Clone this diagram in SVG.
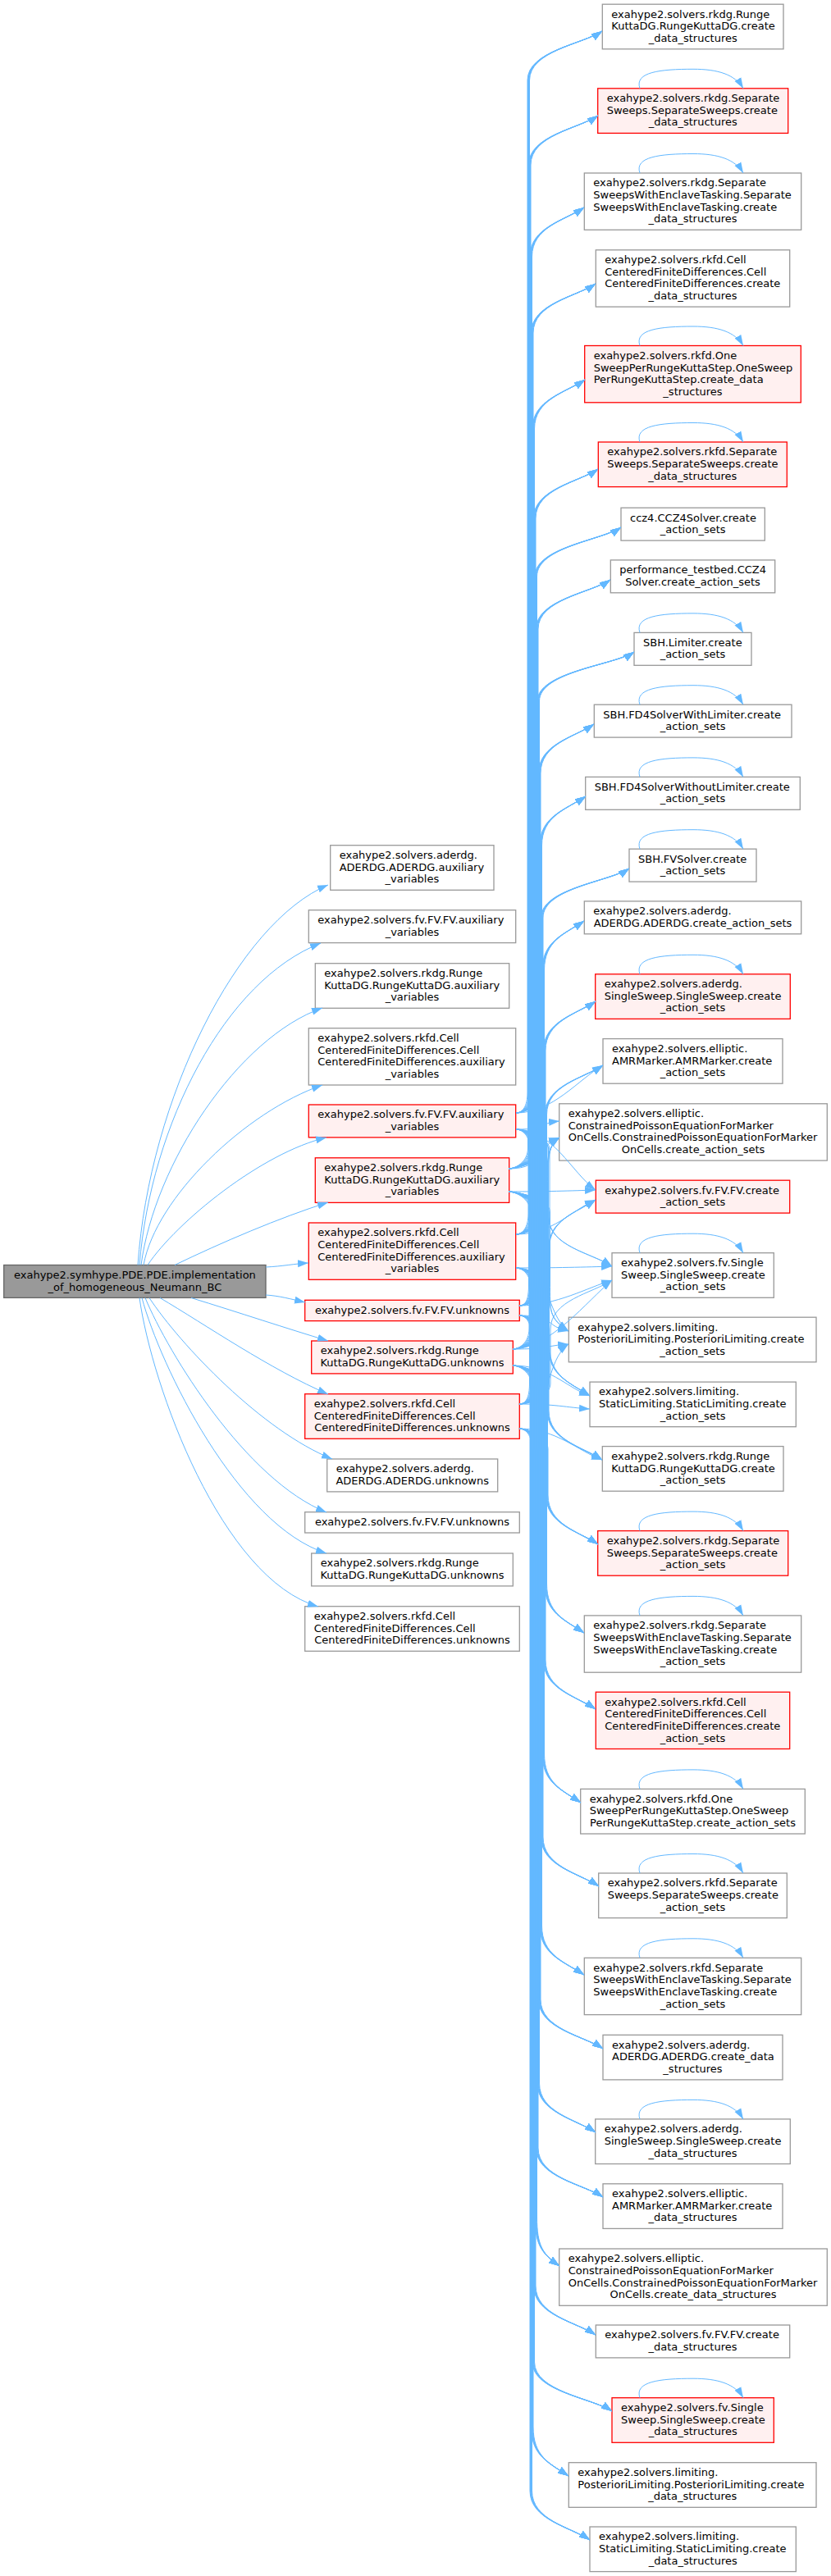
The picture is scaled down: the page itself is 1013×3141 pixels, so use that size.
<svg xmlns="http://www.w3.org/2000/svg" width="1013" height="3141" viewBox="0 0 1013 3141">
<style>
text{font-family:"DejaVu Sans","Liberation Sans",sans-serif;font-size:13px;fill:#000}
.c{text-anchor:middle}
.w rect{fill:#fff;stroke:#999;stroke-width:1.3}
.r rect{fill:#fff0f0;stroke:#f00;stroke-width:1.3}
.k rect{fill:#999;stroke:#666;stroke-width:1.3}
#edges path{fill:none;stroke:#63b8ff;stroke-width:1;marker-end:url(#ah)}
</style>
<defs>
<marker id="ah" markerUnits="userSpaceOnUse" markerWidth="14" markerHeight="10" refX="13" refY="5" orient="auto"><path d="M0,0.5L13,5L0,9.5z" fill="#63b8ff"/></marker>
</defs>
<rect width="1013" height="3141" fill="#fff"/>

<g id="root" class="k"><rect x="4.7" y="1542.5" width="319.3" height="39.9"/><text class="c" x="164.4" y="1558.8">exahype2.symhype.PDE.PDE.implementation</text><text class="c" x="164.4" y="1573.5">_of_homogeneous_Neumann_BC</text></g>

<g id="m1" class="w"><rect x="402.7" y="1030.7" width="199.3" height="54.6"/><text x="413.7" y="1047">exahype2.solvers.aderdg.</text><text x="413.7" y="1061.7">ADERDG.ADERDG.auxiliary</text><text class="c" x="502.4" y="1076.3">_variables</text></g>
<g id="m2" class="w"><rect x="376.3" y="1109.7" width="252.4" height="39.9"/><text x="387.3" y="1126">exahype2.solvers.fv.FV.FV.auxiliary</text><text class="c" x="502.5" y="1140.7">_variables</text></g>
<g id="m3" class="w"><rect x="384.3" y="1174.7" width="236.4" height="54.6"/><text x="395.3" y="1191">exahype2.solvers.rkdg.Runge</text><text x="395.3" y="1205.7">KuttaDG.RungeKuttaDG.auxiliary</text><text class="c" x="502.5" y="1220.3">_variables</text></g>
<g id="m4" class="w"><rect x="376.3" y="1253.7" width="252.4" height="69.3"/><text x="387.3" y="1270">exahype2.solvers.rkfd.Cell</text><text x="387.3" y="1284.7">CenteredFiniteDifferences.Cell</text><text x="387.3" y="1299.3">CenteredFiniteDifferences.auxiliary</text><text class="c" x="502.5" y="1314">_variables</text></g>
<g id="m5" class="r"><rect x="376.3" y="1347" width="252.4" height="39.9"/><text x="387.3" y="1363.3">exahype2.solvers.fv.FV.FV.auxiliary</text><text class="c" x="502.5" y="1378">_variables</text></g>
<g id="m6" class="r"><rect x="384.3" y="1411.8" width="236.4" height="54.6"/><text x="395.3" y="1428.1">exahype2.solvers.rkdg.Runge</text><text x="395.3" y="1442.8">KuttaDG.RungeKuttaDG.auxiliary</text><text class="c" x="502.5" y="1457.4">_variables</text></g>
<g id="m7" class="r"><rect x="376.3" y="1491" width="252.4" height="69.3"/><text x="387.3" y="1507.3">exahype2.solvers.rkfd.Cell</text><text x="387.3" y="1522">CenteredFiniteDifferences.Cell</text><text x="387.3" y="1536.6">CenteredFiniteDifferences.auxiliary</text><text class="c" x="502.5" y="1551.3">_variables</text></g>
<g id="m8" class="r"><rect x="371.7" y="1585.3" width="261.6" height="25.3"/><text class="c" x="502.5" y="1601.6">exahype2.solvers.fv.FV.FV.unknowns</text></g>
<g id="m9" class="r"><rect x="379.7" y="1635" width="245.6" height="39.9"/><text x="390.7" y="1651.3">exahype2.solvers.rkdg.Runge</text><text class="c" x="502.5" y="1666">KuttaDG.RungeKuttaDG.unknowns</text></g>
<g id="m10" class="r"><rect x="371.7" y="1699.7" width="261.6" height="54.6"/><text x="382.7" y="1716">exahype2.solvers.rkfd.Cell</text><text x="382.7" y="1730.7">CenteredFiniteDifferences.Cell</text><text class="c" x="502.5" y="1745.3">CenteredFiniteDifferences.unknowns</text></g>
<g id="m11" class="w"><rect x="398.7" y="1779" width="208" height="39.9"/><text x="409.7" y="1795.3">exahype2.solvers.aderdg.</text><text class="c" x="502.7" y="1810">ADERDG.ADERDG.unknowns</text></g>
<g id="m12" class="w"><rect x="371.7" y="1843.7" width="261.6" height="25.3"/><text class="c" x="502.5" y="1860">exahype2.solvers.fv.FV.FV.unknowns</text></g>
<g id="m13" class="w"><rect x="379.7" y="1894" width="245.6" height="39.9"/><text x="390.7" y="1910.3">exahype2.solvers.rkdg.Runge</text><text class="c" x="502.5" y="1925">KuttaDG.RungeKuttaDG.unknowns</text></g>
<g id="m14" class="w"><rect x="371.7" y="1958.7" width="261.6" height="54.6"/><text x="382.7" y="1975">exahype2.solvers.rkfd.Cell</text><text x="382.7" y="1989.7">CenteredFiniteDifferences.Cell</text><text class="c" x="502.5" y="2004.3">CenteredFiniteDifferences.unknowns</text></g>

<g id="r1" class="w"><rect x="734.3" y="5.2" width="220.7" height="54.6"/><text x="745.3" y="21.5">exahype2.solvers.rkdg.Runge</text><text x="745.3" y="36.2">KuttaDG.RungeKuttaDG.create</text><text class="c" x="844.7" y="50.8">_data_structures</text></g>
<g id="r2" class="r"><rect x="728.7" y="107.8" width="232" height="54.6"/><text x="739.7" y="124.1">exahype2.solvers.rkdg.Separate</text><text x="739.7" y="138.8">Sweeps.SeparateSweeps.create</text><text class="c" x="844.7" y="153.4">_data_structures</text></g>
<g id="r3" class="w"><rect x="712.3" y="211" width="264.4" height="69.3"/><text x="723.3" y="227.3">exahype2.solvers.rkdg.Separate</text><text x="723.3" y="242">SweepsWithEnclaveTasking.Separate</text><text x="723.3" y="256.6">SweepsWithEnclaveTasking.create</text><text class="c" x="844.5" y="271.3">_data_structures</text></g>
<g id="r4" class="w"><rect x="726.3" y="304.8" width="236.4" height="69.3"/><text x="737.3" y="321.1">exahype2.solvers.rkfd.Cell</text><text x="737.3" y="335.8">CenteredFiniteDifferences.Cell</text><text x="737.3" y="350.4">CenteredFiniteDifferences.create</text><text class="c" x="844.5" y="365.1">_data_structures</text></g>
<g id="r5" class="r"><rect x="712.7" y="421.5" width="263.6" height="69.3"/><text x="723.7" y="437.8">exahype2.solvers.rkfd.One</text><text x="723.7" y="452.5">SweepPerRungeKuttaStep.OneSweep</text><text x="723.7" y="467.1">PerRungeKuttaStep.create_data</text><text class="c" x="844.5" y="481.8">_structures</text></g>
<g id="r6" class="r"><rect x="729.3" y="539" width="230" height="54.6"/><text x="740.3" y="555.3">exahype2.solvers.rkfd.Separate</text><text x="740.3" y="570">Sweeps.SeparateSweeps.create</text><text class="c" x="844.3" y="584.6">_data_structures</text></g>
<g id="r7" class="w"><rect x="757" y="619.2" width="175.3" height="39.9"/><text x="768" y="635.5">ccz4.CCZ4Solver.create</text><text class="c" x="844.7" y="650.2">_action_sets</text></g>
<g id="r8" class="w"><rect x="744.3" y="682.9" width="200.4" height="39.9"/><text x="755.3" y="699.2">performance_testbed.CCZ4</text><text class="c" x="844.5" y="713.9">Solver.create_action_sets</text></g>
<g id="r9" class="w"><rect x="773" y="771.4" width="143" height="39.9"/><text x="784" y="787.7">SBH.Limiter.create</text><text class="c" x="844.5" y="802.4">_action_sets</text></g>
<g id="r10" class="w"><rect x="724.3" y="859.2" width="240.7" height="39.9"/><text x="735.3" y="875.5">SBH.FD4SolverWithLimiter.create</text><text class="c" x="844.7" y="890.2">_action_sets</text></g>
<g id="r11" class="w"><rect x="713.7" y="947.4" width="261.6" height="39.9"/><text x="724.7" y="963.7">SBH.FD4SolverWithoutLimiter.create</text><text class="c" x="844.5" y="978.4">_action_sets</text></g>
<g id="r12" class="w"><rect x="767" y="1035.2" width="155" height="39.9"/><text x="778" y="1051.5">SBH.FVSolver.create</text><text class="c" x="844.5" y="1066.2">_action_sets</text></g>
<g id="r13" class="w"><rect x="712.3" y="1098.9" width="264.4" height="39.9"/><text x="723.3" y="1115.2">exahype2.solvers.aderdg.</text><text class="c" x="844.5" y="1129.9">ADERDG.ADERDG.create_action_sets</text></g>
<g id="r14" class="r"><rect x="725.7" y="1187.8" width="237.6" height="54.6"/><text x="736.7" y="1204.1">exahype2.solvers.aderdg.</text><text x="736.7" y="1218.8">SingleSweep.SingleSweep.create</text><text class="c" x="844.5" y="1233.4">_action_sets</text></g>
<g id="r15" class="w"><rect x="735" y="1266.6" width="219" height="54.6"/><text x="746" y="1282.9">exahype2.solvers.elliptic.</text><text x="746" y="1297.6">AMRMarker.AMRMarker.create</text><text class="c" x="844.5" y="1312.2">_action_sets</text></g>
<g id="r16" class="w"><rect x="681.7" y="1345.8" width="326.6" height="69.3"/><text x="692.7" y="1362.1">exahype2.solvers.elliptic.</text><text x="692.7" y="1376.8">ConstrainedPoissonEquationForMarker</text><text x="692.7" y="1391.4">OnCells.ConstrainedPoissonEquationForMarker</text><text class="c" x="845" y="1406.1">OnCells.create_action_sets</text></g>
<g id="r17" class="r"><rect x="726.3" y="1439.2" width="236.4" height="39.9"/><text x="737.3" y="1455.5">exahype2.solvers.fv.FV.FV.create</text><text class="c" x="844.5" y="1470.2">_action_sets</text></g>
<g id="r18" class="w"><rect x="746" y="1527.7" width="197.3" height="54.6"/><text x="757" y="1544">exahype2.solvers.fv.Single</text><text x="757" y="1558.7">Sweep.SingleSweep.create</text><text class="c" x="844.7" y="1573.3">_action_sets</text></g>
<g id="r19" class="w"><rect x="693.3" y="1606.2" width="301.7" height="54.6"/><text x="704.3" y="1622.5">exahype2.solvers.limiting.</text><text x="704.3" y="1637.2">PosterioriLimiting.PosterioriLimiting.create</text><text class="c" x="844.2" y="1651.8">_action_sets</text></g>
<g id="r20" class="w"><rect x="719" y="1685.1" width="251.3" height="54.6"/><text x="730" y="1701.4">exahype2.solvers.limiting.</text><text x="730" y="1716.1">StaticLimiting.StaticLimiting.create</text><text class="c" x="844.7" y="1730.7">_action_sets</text></g>
<g id="r21" class="w"><rect x="734.3" y="1763.6" width="220.7" height="54.6"/><text x="745.3" y="1779.9">exahype2.solvers.rkdg.Runge</text><text x="745.3" y="1794.6">KuttaDG.RungeKuttaDG.create</text><text class="c" x="844.7" y="1809.2">_action_sets</text></g>
<g id="r22" class="r"><rect x="728.7" y="1866.6" width="232" height="54.6"/><text x="739.7" y="1882.9">exahype2.solvers.rkdg.Separate</text><text x="739.7" y="1897.6">Sweeps.SeparateSweeps.create</text><text class="c" x="844.7" y="1912.2">_action_sets</text></g>
<g id="r23" class="w"><rect x="712.3" y="1969.9" width="264.4" height="69.3"/><text x="723.3" y="1986.2">exahype2.solvers.rkdg.Separate</text><text x="723.3" y="2000.9">SweepsWithEnclaveTasking.Separate</text><text x="723.3" y="2015.5">SweepsWithEnclaveTasking.create</text><text class="c" x="844.5" y="2030.2">_action_sets</text></g>
<g id="r24" class="r"><rect x="726.3" y="2063.2" width="236.4" height="69.3"/><text x="737.3" y="2079.5">exahype2.solvers.rkfd.Cell</text><text x="737.3" y="2094.2">CenteredFiniteDifferences.Cell</text><text x="737.3" y="2108.8">CenteredFiniteDifferences.create</text><text class="c" x="844.5" y="2123.5">_action_sets</text></g>
<g id="r25" class="w"><rect x="707.7" y="2181.4" width="273.6" height="54.6"/><text x="718.7" y="2197.7">exahype2.solvers.rkfd.One</text><text x="718.7" y="2212.4">SweepPerRungeKuttaStep.OneSweep</text><text class="c" x="844.5" y="2227">PerRungeKuttaStep.create_action_sets</text></g>
<g id="r26" class="w"><rect x="729.7" y="2284" width="229.6" height="54.6"/><text x="740.7" y="2300.3">exahype2.solvers.rkfd.Separate</text><text x="740.7" y="2315">Sweeps.SeparateSweeps.create</text><text class="c" x="844.5" y="2329.6">_action_sets</text></g>
<g id="r27" class="w"><rect x="712.3" y="2387.3" width="264.4" height="69.3"/><text x="723.3" y="2403.6">exahype2.solvers.rkfd.Separate</text><text x="723.3" y="2418.3">SweepsWithEnclaveTasking.Separate</text><text x="723.3" y="2432.9">SweepsWithEnclaveTasking.create</text><text class="c" x="844.5" y="2447.6">_action_sets</text></g>
<g id="r28" class="w"><rect x="735" y="2481.3" width="219" height="54.6"/><text x="746" y="2497.6">exahype2.solvers.aderdg.</text><text x="746" y="2512.3">ADERDG.ADERDG.create_data</text><text class="c" x="844.5" y="2526.9">_structures</text></g>
<g id="r29" class="w"><rect x="725.7" y="2583.9" width="237.6" height="54.6"/><text x="736.7" y="2600.2">exahype2.solvers.aderdg.</text><text x="736.7" y="2614.9">SingleSweep.SingleSweep.create</text><text class="c" x="844.5" y="2629.5">_data_structures</text></g>
<g id="r30" class="w"><rect x="735" y="2662.8" width="219" height="54.6"/><text x="746" y="2679.1">exahype2.solvers.elliptic.</text><text x="746" y="2693.8">AMRMarker.AMRMarker.create</text><text class="c" x="844.5" y="2708.4">_data_structures</text></g>
<g id="r31" class="w"><rect x="681.7" y="2742" width="326.6" height="69.3"/><text x="692.7" y="2758.3">exahype2.solvers.elliptic.</text><text x="692.7" y="2773">ConstrainedPoissonEquationForMarker</text><text x="692.7" y="2787.6">OnCells.ConstrainedPoissonEquationForMarker</text><text class="c" x="845" y="2802.3">OnCells.create_data_structures</text></g>
<g id="r32" class="w"><rect x="726.3" y="2835" width="236.4" height="39.9"/><text x="737.3" y="2851.3">exahype2.solvers.fv.FV.FV.create</text><text class="c" x="844.5" y="2866">_data_structures</text></g>
<g id="r33" class="r"><rect x="746" y="2923.7" width="197.3" height="54.6"/><text x="757" y="2940">exahype2.solvers.fv.Single</text><text x="757" y="2954.7">Sweep.SingleSweep.create</text><text class="c" x="844.7" y="2969.3">_data_structures</text></g>
<g id="r34" class="w"><rect x="693.3" y="3002.7" width="301.7" height="54.6"/><text x="704.3" y="3019">exahype2.solvers.limiting.</text><text x="704.3" y="3033.7">PosterioriLimiting.PosterioriLimiting.create</text><text class="c" x="844.2" y="3048.3">_data_structures</text></g>
<g id="r35" class="w"><rect x="719" y="3081" width="251.3" height="54.6"/><text x="730" y="3097.3">exahype2.solvers.limiting.</text><text x="730" y="3112">StaticLimiting.StaticLimiting.create</text><text class="c" x="844.7" y="3126.6">_data_structures</text></g>

<g id="edges">
<path d="M168,1542.5C182,1340 290,1125 400,1079"/>
<path d="M170,1542.5C184,1370 275,1195 391,1150"/>
<path d="M172,1542.5C188,1420 290,1265 393,1229"/>
<path d="M175,1542.5C190,1460 300,1355 393,1323"/>
<path d="M180,1542.5C215,1490 320,1405 398,1387"/>
<path d="M213,1542.5C270,1515 340,1485 400,1466"/>
<path d="M324,1545C345,1544 358,1541 376,1540"/>
<path d="M324,1579C340,1580 355,1584 372,1588"/>
<path d="M233,1582.5C290,1600 350,1620 400,1635"/>
<path d="M195,1582.5C250,1615 330,1670 400,1700"/>
<path d="M182,1582.5C220,1640 320,1745 405,1779"/>
<path d="M177,1582.5C205,1650 300,1805 398,1844"/>
<path d="M173,1582.5C195,1665 290,1860 398,1894"/>
<path d="M170,1582.5C185,1690 270,1925 388,1959"/>

<path d="M780,107.8c-7,-20 25,-23.5 65,-23.5c30,0 51,6.5 61,23.5"/>
<path d="M780,211c-7,-20 25,-23.5 65,-23.5c30,0 51,6.5 61,23.5"/>
<path d="M780,421.5c-7,-20 25,-23.5 65,-23.5c30,0 51,6.5 61,23.5"/>
<path d="M780,539c-7,-20 25,-23.5 65,-23.5c30,0 51,6.5 61,23.5"/>
<path d="M780,771.4c-7,-20 25,-23.5 65,-23.5c30,0 51,6.5 61,23.5"/>
<path d="M780,859.2c-7,-20 25,-23.5 65,-23.5c30,0 51,6.5 61,23.5"/>
<path d="M780,947.4c-7,-20 25,-23.5 65,-23.5c30,0 51,6.5 61,23.5"/>
<path d="M780,1035.2c-7,-20 25,-23.5 65,-23.5c30,0 51,6.5 61,23.5"/>
<path d="M780,1187.8c-7,-20 25,-23.5 65,-23.5c30,0 51,6.5 61,23.5"/>
<path d="M780,1527.7c-7,-20 25,-23.5 65,-23.5c30,0 51,6.5 61,23.5"/>
<path d="M780,1866.6c-7,-20 25,-23.5 65,-23.5c30,0 51,6.5 61,23.5"/>
<path d="M780,1969.9c-7,-20 25,-23.5 65,-23.5c30,0 51,6.5 61,23.5"/>
<path d="M780,2181.4c-7,-20 25,-23.5 65,-23.5c30,0 51,6.5 61,23.5"/>
<path d="M780,2284c-7,-20 25,-23.5 65,-23.5c30,0 51,6.5 61,23.5"/>
<path d="M780,2387.3c-7,-20 25,-23.5 65,-23.5c30,0 51,6.5 61,23.5"/>
<path d="M780,2583.9c-7,-20 25,-23.5 65,-23.5c30,0 51,6.5 61,23.5"/>
<path d="M780,2923.7c-7,-20 25,-23.5 65,-23.5c30,0 51,6.5 61,23.5"/>

<path d="M629,1357c8,0 14,-8 14,-25V98C643,62 710,54 734,38"/>
<path d="M620,1425c8,0 23.5,-8 23.5,-25V98C643.5,62 710,54 734,38"/>
<path d="M629,1505c8,0 15,-8 15,-25V98C644,62 710,54 734,38"/>
<path d="M633,1592c8,0 11.5,-8 11.5,-25V98C644.5,62 710,54 734,38"/>
<path d="M625,1645c8,0 20,-8 20,-25V98C645,62 710,54 734,38"/>
<path d="M633,1712c8,0 12.5,-8 12.5,-25V98C645.5,62 710,54 734,38"/>
<path d="M629,1357c8,0 15.5,-8 15.5,-25V201C644.5,165 705,157 729,141"/>
<path d="M620,1425c8,0 25,-8 25,-25V201C645,165 705,157 729,141"/>
<path d="M629,1505c8,0 16.5,-8 16.5,-25V201C645.5,165 705,157 729,141"/>
<path d="M633,1592c8,0 13,-8 13,-25V201C646,165 705,157 729,141"/>
<path d="M625,1645c8,0 21.5,-8 21.5,-25V201C646.5,165 705,157 729,141"/>
<path d="M633,1712c8,0 14,-8 14,-25V201C647,165 705,157 729,141"/>
<path d="M629,1357c8,0 17,-8 17,-25V313C646,277 688,269 712,253"/>
<path d="M620,1425c8,0 26.5,-8 26.5,-25V313C646.5,277 688,269 712,253"/>
<path d="M629,1505c8,0 18,-8 18,-25V313C647,277 688,269 712,253"/>
<path d="M633,1592c8,0 14.5,-8 14.5,-25V313C647.5,277 688,269 712,253"/>
<path d="M625,1645c8,0 23,-8 23,-25V313C648,277 688,269 712,253"/>
<path d="M633,1712c8,0 15.5,-8 15.5,-25V313C648.5,277 688,269 712,253"/>
<path d="M629,1357c8,0 18.5,-8 18.5,-25V406C647.5,370 702,362 726,346"/>
<path d="M620,1425c8,0 28,-8 28,-25V406C648,370 702,362 726,346"/>
<path d="M629,1505c8,0 19.5,-8 19.5,-25V406C648.5,370 702,362 726,346"/>
<path d="M633,1592c8,0 16,-8 16,-25V406C649,370 702,362 726,346"/>
<path d="M625,1645c8,0 24.5,-8 24.5,-25V406C649.5,370 702,362 726,346"/>
<path d="M633,1712c8,0 17,-8 17,-25V406C650,370 702,362 726,346"/>
<path d="M629,1357c8,0 20,-8 20,-25V523C649,487 689,479 713,463"/>
<path d="M620,1425c8,0 29.5,-8 29.5,-25V523C649.5,487 689,479 713,463"/>
<path d="M629,1505c8,0 21,-8 21,-25V523C650,487 689,479 713,463"/>
<path d="M633,1592c8,0 17.5,-8 17.5,-25V523C650.5,487 689,479 713,463"/>
<path d="M625,1645c8,0 26,-8 26,-25V523C651,487 689,479 713,463"/>
<path d="M633,1712c8,0 18.5,-8 18.5,-25V523C651.5,487 689,479 713,463"/>
<path d="M629,1357c8,0 21.5,-8 21.5,-25V632C650.5,596 705,588 729,572"/>
<path d="M620,1425c8,0 31,-8 31,-25V632C651,596 705,588 729,572"/>
<path d="M629,1505c8,0 22.5,-8 22.5,-25V632C651.5,596 705,588 729,572"/>
<path d="M633,1592c8,0 19,-8 19,-25V632C652,596 705,588 729,572"/>
<path d="M625,1645c8,0 27.5,-8 27.5,-25V632C652.5,596 705,588 729,572"/>
<path d="M633,1712c8,0 20,-8 20,-25V632C653,596 705,588 729,572"/>
<path d="M629,1357c8,0 23,-8 23,-25V703C652,667 733,659 757,643"/>
<path d="M620,1425c8,0 32.5,-8 32.5,-25V703C652.5,667 733,659 757,643"/>
<path d="M629,1505c8,0 24,-8 24,-25V703C653,667 733,659 757,643"/>
<path d="M633,1592c8,0 20.5,-8 20.5,-25V703C653.5,667 733,659 757,643"/>
<path d="M625,1645c8,0 29,-8 29,-25V703C654,667 733,659 757,643"/>
<path d="M633,1712c8,0 21.5,-8 21.5,-25V703C654.5,667 733,659 757,643"/>
<path d="M629,1357c8,0 24.5,-8 24.5,-25V767C653.5,731 720,723 744,707"/>
<path d="M620,1425c8,0 34,-8 34,-25V767C654,731 720,723 744,707"/>
<path d="M629,1505c8,0 25.5,-8 25.5,-25V767C654.5,731 720,723 744,707"/>
<path d="M633,1592c8,0 22,-8 22,-25V767C655,731 720,723 744,707"/>
<path d="M625,1645c8,0 30.5,-8 30.5,-25V767C655.5,731 720,723 744,707"/>
<path d="M633,1712c8,0 23,-8 23,-25V767C656,731 720,723 744,707"/>
<path d="M629,1357c8,0 26,-8 26,-25V855C655,819 749,811 773,795"/>
<path d="M620,1425c8,0 35.5,-8 35.5,-25V855C655.5,819 749,811 773,795"/>
<path d="M629,1505c8,0 27,-8 27,-25V855C656,819 749,811 773,795"/>
<path d="M633,1592c8,0 23.5,-8 23.5,-25V855C656.5,819 749,811 773,795"/>
<path d="M625,1645c8,0 32,-8 32,-25V855C657,819 749,811 773,795"/>
<path d="M633,1712c8,0 24.5,-8 24.5,-25V855C657.5,819 749,811 773,795"/>
<path d="M629,1357c8,0 27.5,-8 27.5,-25V943C656.5,907 700,899 724,883"/>
<path d="M620,1425c8,0 37,-8 37,-25V943C657,907 700,899 724,883"/>
<path d="M629,1505c8,0 28.5,-8 28.5,-25V943C657.5,907 700,899 724,883"/>
<path d="M633,1592c8,0 25,-8 25,-25V943C658,907 700,899 724,883"/>
<path d="M625,1645c8,0 33.5,-8 33.5,-25V943C658.5,907 700,899 724,883"/>
<path d="M633,1712c8,0 26,-8 26,-25V943C659,907 700,899 724,883"/>
<path d="M629,1357c8,0 29,-8 29,-25V1031C658,995 690,987 714,971"/>
<path d="M620,1425c8,0 38.5,-8 38.5,-25V1031C658.5,995 690,987 714,971"/>
<path d="M629,1505c8,0 30,-8 30,-25V1031C659,995 690,987 714,971"/>
<path d="M633,1592c8,0 26.5,-8 26.5,-25V1031C659.5,995 690,987 714,971"/>
<path d="M625,1645c8,0 35,-8 35,-25V1031C660,995 690,987 714,971"/>
<path d="M633,1712c8,0 27.5,-8 27.5,-25V1031C660.5,995 690,987 714,971"/>
<path d="M629,1357c8,0 30.5,-8 30.5,-25V1119C659.5,1083 743,1075 767,1059"/>
<path d="M620,1425c8,0 40,-8 40,-25V1119C660,1083 743,1075 767,1059"/>
<path d="M629,1505c8,0 31.5,-8 31.5,-25V1119C660.5,1083 743,1075 767,1059"/>
<path d="M633,1592c8,0 28,-8 28,-25V1119C661,1083 743,1075 767,1059"/>
<path d="M625,1645c8,0 36.5,-8 36.5,-25V1119C661.5,1083 743,1075 767,1059"/>
<path d="M633,1712c8,0 29,-8 29,-25V1119C662,1083 743,1075 767,1059"/>
<path d="M629,1357c8,0 32,-8 32,-25V1183C661,1147 688,1139 712,1123"/>
<path d="M620,1425c8,0 41.5,-8 41.5,-25V1183C661.5,1147 688,1139 712,1123"/>
<path d="M629,1505c8,0 33,-8 33,-25V1183C662,1147 688,1139 712,1123"/>
<path d="M633,1592c8,0 29.5,-8 29.5,-25V1183C662.5,1147 688,1139 712,1123"/>
<path d="M625,1645c8,0 38,-8 38,-25V1183C663,1147 688,1139 712,1123"/>
<path d="M633,1712c8,0 30.5,-8 30.5,-25V1183C663.5,1147 688,1139 712,1123"/>
<path d="M629,1357c8,0 33.5,-8 33.5,-25V1281C662.5,1245 702,1237 726,1221"/>
<path d="M620,1425c8,0 43,-8 43,-25V1281C663,1245 702,1237 726,1221"/>
<path d="M629,1505c8,0 34.5,-8 34.5,-25V1281C663.5,1245 702,1237 726,1221"/>
<path d="M633,1592c8,0 31,-8 31,-25V1281C664,1245 702,1237 726,1221"/>
<path d="M625,1645c8,0 39.5,-8 39.5,-25V1281C664.5,1245 702,1237 726,1221"/>
<path d="M633,1712c8,0 32,-8 32,-25V1281C665,1245 702,1237 726,1221"/>
<path d="M629,1357C674,1357 705,1316 735,1299"/>
<path d="M620,1425c8,0 44.5,-8 44.5,-25V1359C664.5,1323 711,1315 735,1299"/>
<path d="M629,1505c8,0 36,-8 36,-25V1359C665,1323 711,1315 735,1299"/>
<path d="M633,1592c8,0 32.5,-8 32.5,-25V1359C665.5,1323 711,1315 735,1299"/>
<path d="M625,1645c8,0 41,-8 41,-25V1359C666,1323 711,1315 735,1299"/>
<path d="M633,1712c8,0 33.5,-8 33.5,-25V1359C666.5,1323 711,1315 735,1299"/>
<path d="M629,1377C674,1377 652,1370 682,1367"/>
<path d="M620,1425C665,1425 652,1398 682,1387"/>
<path d="M629,1505c8,0 37.5,-8 37.5,-25V1447C666.5,1411 668,1397 682,1387"/>
<path d="M633,1592c8,0 34,-8 34,-25V1447C667,1411 668,1397 682,1387"/>
<path d="M625,1645c8,0 42.5,-8 42.5,-25V1447C667.5,1411 668,1397 682,1387"/>
<path d="M633,1712c8,0 35,-8 35,-25V1447C668,1411 668,1397 682,1387"/>
<path d="M629,1377C674,1377 696,1429 726,1451"/>
<path d="M620,1453C665,1453 696,1452 726,1451"/>
<path d="M629,1505C674,1505 696,1476 726,1463"/>
<path d="M633,1592c8,0 35.5,-8 35.5,-25V1523C668.5,1487 702,1479 726,1463"/>
<path d="M625,1645c8,0 44,-8 44,-25V1523C669,1487 702,1479 726,1463"/>
<path d="M633,1712c8,0 36.5,-8 36.5,-25V1523C669.5,1487 702,1479 726,1463"/>
<path d="M629,1377c8,0 39.5,8 39.5,25V1484C668.5,1520 722,1528 746,1544"/>
<path d="M620,1453c8,0 49,8 49,25V1484C669,1520 722,1528 746,1544"/>
<path d="M629,1546C674,1546 716,1545 746,1544"/>
<path d="M633,1592C678,1592 716,1570 746,1561"/>
<path d="M625,1645C670,1645 716,1586 746,1561"/>
<path d="M633,1712c8,0 38,-8 38,-25V1621C671,1585 722,1577 746,1561"/>
<path d="M629,1377c8,0 41,8 41,25V1563C670,1599 669,1607 693,1623"/>
<path d="M620,1453c8,0 50.5,8 50.5,25V1563C670.5,1599 669,1607 693,1623"/>
<path d="M629,1546C674,1546 663,1600 693,1623"/>
<path d="M633,1604C678,1604 663,1617 693,1623"/>
<path d="M625,1645C670,1645 663,1641 693,1639"/>
<path d="M633,1712C678,1712 663,1661 693,1639"/>
<path d="M629,1377c8,0 39.5,8 39.5,25V1642C668.5,1678 695,1686 719,1702"/>
<path d="M620,1453c8,0 49,8 49,25V1642C669,1678 695,1686 719,1702"/>
<path d="M629,1546c8,0 40.5,8 40.5,25V1642C669.5,1678 695,1686 719,1702"/>
<path d="M633,1604c8,0 37,8 37,25V1642C670,1678 695,1686 719,1702"/>
<path d="M625,1665C670,1665 689,1691 719,1702"/>
<path d="M633,1712C678,1712 689,1716 719,1718"/>
<path d="M629,1377c8,0 38,8 38,25V1720C667,1756 710,1764 734,1780"/>
<path d="M620,1453c8,0 47.5,8 47.5,25V1720C667.5,1756 710,1764 734,1780"/>
<path d="M629,1546c8,0 39,8 39,25V1720C668,1756 710,1764 734,1780"/>
<path d="M633,1604c8,0 35.5,8 35.5,25V1720C668.5,1756 710,1764 734,1780"/>
<path d="M625,1665c8,0 44,8 44,25V1720C669,1756 710,1764 734,1780"/>
<path d="M633,1742C678,1742 704,1769 734,1780"/>
<path d="M629,1377c8,0 36.5,8 36.5,25V1823C665.5,1859 705,1867 729,1883"/>
<path d="M620,1453c8,0 46,8 46,25V1823C666,1859 705,1867 729,1883"/>
<path d="M629,1546c8,0 37.5,8 37.5,25V1823C666.5,1859 705,1867 729,1883"/>
<path d="M633,1604c8,0 34,8 34,25V1823C667,1859 705,1867 729,1883"/>
<path d="M625,1665c8,0 42.5,8 42.5,25V1823C667.5,1859 705,1867 729,1883"/>
<path d="M633,1742c8,0 35,8 35,25V1823C668,1859 705,1867 729,1883"/>
<path d="M629,1377c8,0 35,8 35,25V1931C664,1967 688,1975 712,1991"/>
<path d="M620,1453c8,0 44.5,8 44.5,25V1931C664.5,1967 688,1975 712,1991"/>
<path d="M629,1546c8,0 36,8 36,25V1931C665,1967 688,1975 712,1991"/>
<path d="M633,1604c8,0 32.5,8 32.5,25V1931C665.5,1967 688,1975 712,1991"/>
<path d="M625,1665c8,0 41,8 41,25V1931C666,1967 688,1975 712,1991"/>
<path d="M633,1742c8,0 33.5,8 33.5,25V1931C666.5,1967 688,1975 712,1991"/>
<path d="M629,1377c8,0 33.5,8 33.5,25V2024C662.5,2060 702,2068 726,2084"/>
<path d="M620,1453c8,0 43,8 43,25V2024C663,2060 702,2068 726,2084"/>
<path d="M629,1546c8,0 34.5,8 34.5,25V2024C663.5,2060 702,2068 726,2084"/>
<path d="M633,1604c8,0 31,8 31,25V2024C664,2060 702,2068 726,2084"/>
<path d="M625,1665c8,0 39.5,8 39.5,25V2024C664.5,2060 702,2068 726,2084"/>
<path d="M633,1742c8,0 32,8 32,25V2024C665,2060 702,2068 726,2084"/>
<path d="M629,1377c8,0 32,8 32,25V2138C661,2174 684,2182 708,2198"/>
<path d="M620,1453c8,0 41.5,8 41.5,25V2138C661.5,2174 684,2182 708,2198"/>
<path d="M629,1546c8,0 33,8 33,25V2138C662,2174 684,2182 708,2198"/>
<path d="M633,1604c8,0 29.5,8 29.5,25V2138C662.5,2174 684,2182 708,2198"/>
<path d="M625,1665c8,0 38,8 38,25V2138C663,2174 684,2182 708,2198"/>
<path d="M633,1742c8,0 30.5,8 30.5,25V2138C663.5,2174 684,2182 708,2198"/>
<path d="M629,1377c8,0 30.5,8 30.5,25V2240C659.5,2276 706,2284 730,2300"/>
<path d="M620,1453c8,0 40,8 40,25V2240C660,2276 706,2284 730,2300"/>
<path d="M629,1546c8,0 31.5,8 31.5,25V2240C660.5,2276 706,2284 730,2300"/>
<path d="M633,1604c8,0 28,8 28,25V2240C661,2276 706,2284 730,2300"/>
<path d="M625,1665c8,0 36.5,8 36.5,25V2240C661.5,2276 706,2284 730,2300"/>
<path d="M633,1742c8,0 29,8 29,25V2240C662,2276 706,2284 730,2300"/>
<path d="M629,1377c8,0 29,8 29,25V2348C658,2384 688,2392 712,2408"/>
<path d="M620,1453c8,0 38.5,8 38.5,25V2348C658.5,2384 688,2392 712,2408"/>
<path d="M629,1546c8,0 30,8 30,25V2348C659,2384 688,2392 712,2408"/>
<path d="M633,1604c8,0 26.5,8 26.5,25V2348C659.5,2384 688,2392 712,2408"/>
<path d="M625,1665c8,0 35,8 35,25V2348C660,2384 688,2392 712,2408"/>
<path d="M633,1742c8,0 27.5,8 27.5,25V2348C660.5,2384 688,2392 712,2408"/>
<path d="M629,1377c8,0 27.5,8 27.5,25V2438C656.5,2474 711,2482 735,2498"/>
<path d="M620,1453c8,0 37,8 37,25V2438C657,2474 711,2482 735,2498"/>
<path d="M629,1546c8,0 28.5,8 28.5,25V2438C657.5,2474 711,2482 735,2498"/>
<path d="M633,1604c8,0 25,8 25,25V2438C658,2474 711,2482 735,2498"/>
<path d="M625,1665c8,0 33.5,8 33.5,25V2438C658.5,2474 711,2482 735,2498"/>
<path d="M633,1742c8,0 26,8 26,25V2438C659,2474 711,2482 735,2498"/>
<path d="M629,1377c8,0 26,8 26,25V2540C655,2576 702,2584 726,2600"/>
<path d="M620,1453c8,0 35.5,8 35.5,25V2540C655.5,2576 702,2584 726,2600"/>
<path d="M629,1546c8,0 27,8 27,25V2540C656,2576 702,2584 726,2600"/>
<path d="M633,1604c8,0 23.5,8 23.5,25V2540C656.5,2576 702,2584 726,2600"/>
<path d="M625,1665c8,0 32,8 32,25V2540C657,2576 702,2584 726,2600"/>
<path d="M633,1742c8,0 24.5,8 24.5,25V2540C657.5,2576 702,2584 726,2600"/>
<path d="M629,1377c8,0 24.5,8 24.5,25V2619C653.5,2655 711,2663 735,2679"/>
<path d="M620,1453c8,0 34,8 34,25V2619C654,2655 711,2663 735,2679"/>
<path d="M629,1546c8,0 25.5,8 25.5,25V2619C654.5,2655 711,2663 735,2679"/>
<path d="M633,1604c8,0 22,8 22,25V2619C655,2655 711,2663 735,2679"/>
<path d="M625,1665c8,0 30.5,8 30.5,25V2619C655.5,2655 711,2663 735,2679"/>
<path d="M633,1742c8,0 23,8 23,25V2619C656,2655 711,2663 735,2679"/>
<path d="M629,1377c8,0 23,8 23,25V2703C652,2739 662,2749 682,2763"/>
<path d="M620,1453c8,0 32.5,8 32.5,25V2703C652.5,2739 662,2749 682,2763"/>
<path d="M629,1546c8,0 24,8 24,25V2703C653,2739 662,2749 682,2763"/>
<path d="M633,1604c8,0 20.5,8 20.5,25V2703C653.5,2739 662,2749 682,2763"/>
<path d="M625,1665c8,0 29,8 29,25V2703C654,2739 662,2749 682,2763"/>
<path d="M633,1742c8,0 21.5,8 21.5,25V2703C654.5,2739 662,2749 682,2763"/>
<path d="M629,1377c8,0 21.5,8 21.5,25V2787C650.5,2823 702,2831 726,2847"/>
<path d="M620,1453c8,0 31,8 31,25V2787C651,2823 702,2831 726,2847"/>
<path d="M629,1546c8,0 22.5,8 22.5,25V2787C651.5,2823 702,2831 726,2847"/>
<path d="M633,1604c8,0 19,8 19,25V2787C652,2823 702,2831 726,2847"/>
<path d="M625,1665c8,0 27.5,8 27.5,25V2787C652.5,2823 702,2831 726,2847"/>
<path d="M633,1742c8,0 20,8 20,25V2787C653,2823 702,2831 726,2847"/>
<path d="M629,1377c8,0 20,8 20,25V2880C649,2916 722,2924 746,2940"/>
<path d="M620,1453c8,0 29.5,8 29.5,25V2880C649.5,2916 722,2924 746,2940"/>
<path d="M629,1546c8,0 21,8 21,25V2880C650,2916 722,2924 746,2940"/>
<path d="M633,1604c8,0 17.5,8 17.5,25V2880C650.5,2916 722,2924 746,2940"/>
<path d="M625,1665c8,0 26,8 26,25V2880C651,2916 722,2924 746,2940"/>
<path d="M633,1742c8,0 18.5,8 18.5,25V2880C651.5,2916 722,2924 746,2940"/>
<path d="M629,1377c8,0 18.5,8 18.5,25V2959C647.5,2995 669,3003 693,3019"/>
<path d="M620,1453c8,0 28,8 28,25V2959C648,2995 669,3003 693,3019"/>
<path d="M629,1546c8,0 19.5,8 19.5,25V2959C648.5,2995 669,3003 693,3019"/>
<path d="M633,1604c8,0 16,8 16,25V2959C649,2995 669,3003 693,3019"/>
<path d="M625,1665c8,0 24.5,8 24.5,25V2959C649.5,2995 669,3003 693,3019"/>
<path d="M633,1742c8,0 17,8 17,25V2959C650,2995 669,3003 693,3019"/>
<path d="M629,1377c8,0 17,8 17,25V3037C646,3073 695,3081 719,3097"/>
<path d="M620,1453c8,0 26.5,8 26.5,25V3037C646.5,3073 695,3081 719,3097"/>
<path d="M629,1546c8,0 18,8 18,25V3037C647,3073 695,3081 719,3097"/>
<path d="M633,1604c8,0 14.5,8 14.5,25V3037C647.5,3073 695,3081 719,3097"/>
<path d="M625,1665c8,0 23,8 23,25V3037C648,3073 695,3081 719,3097"/>
<path d="M633,1742c8,0 15.5,8 15.5,25V3037C648.5,3073 695,3081 719,3097"/>
</g>
</svg>
